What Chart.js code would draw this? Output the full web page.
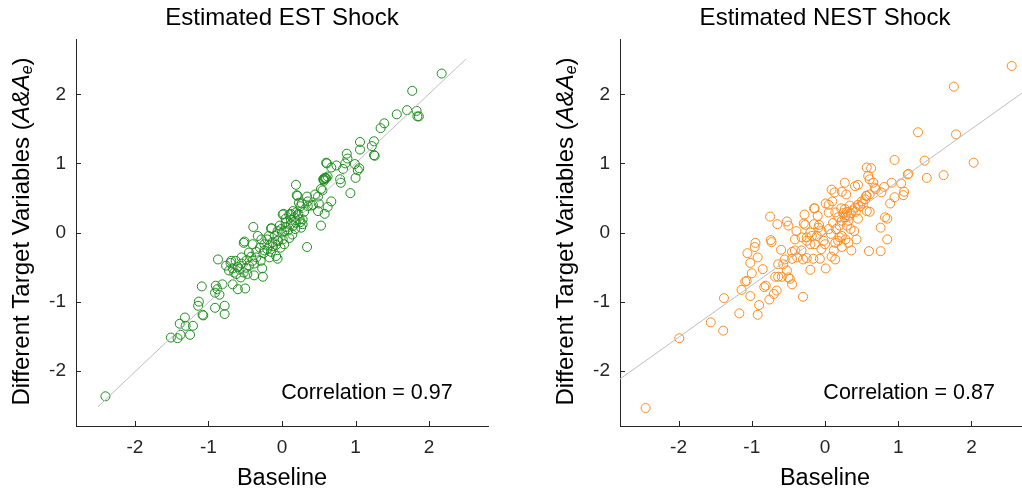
<!DOCTYPE html>
<html>
<head>
<meta charset="utf-8">
<script src="https://cdn.jsdelivr.net/npm/chart.js@4"></script>
<style>
html, body { margin: 0; padding: 0; background: #fff; overflow: hidden; }
body { width: 1022px; height: 495px; position: relative; }
.panel { position: absolute; top: 0; height: 495px; }
#est-panel { left: 0; width: 511px; }
#nest-panel { left: 544px; width: 509px; }
</style>
</head>
<body>
<div class="panel" id="est-panel"><canvas id="est-chart"></canvas></div>
<div class="panel" id="nest-panel"><canvas id="nest-chart"></canvas></div>
<script>
const tickValues = [-2, -1, 0, 1, 2];
const axisMin = -2.8;
const axisMax = 2.8;

// EST shock: baseline vs different target variables
const estX = [2.17, 1.77, 1.70, 1.56, 1.83, 1.84, 1.86, 1.39, 1.34, 1.06, 1.25, 1.22, 1.06, 1.26, 1.25, 0.88, 0.89, 0.86, 0.74, 0.60,
    0.61, 0.67, 0.99, 1.05, 1.03, 0.83, 1.00, 0.80, 0.79, 0.93, 0.58, 0.60, 0.56, 0.62, 0.55, 0.49, 0.67, 0.62, 0.50, 0.49,
    0.58, 0.53, 0.19, 0.20, 0.34, 0.23, 0.35, 0.25, 0.15, 0.19, 0.01, 0.10, 0.17, 0.24, 0.28, 0.26, 0.19, 0.12, 0.05, -0.01,
    0.03, -0.03, -0.06, -0.15, 0.14, 0.01, 0.03, 0.34, -0.06, -0.13, -0.17, -0.24, -0.33, -0.39, -0.51, -0.52, -0.40, -0.20, -0.24, -0.15,
    -0.08, -0.06, -0.17, -0.29, -0.35, -0.45, -0.40, -0.27, -0.26, -0.55, -0.63, -0.69, -0.76, -0.67, -0.58, -0.49, -0.47, -0.38, -0.56, -0.87,
    -0.67, -0.60, -0.50, -0.81, -0.90, -0.88, -0.91, -0.85, -1.09, -0.91, -0.78, -0.78, -1.13, -1.14, -1.08, -1.07, -1.32, -1.39, -1.31, -1.21,
    -1.25, -1.38, -1.42, -1.51, -2.40, 0.21, 0.27, 0.40, 0.02, 0.12, 0.22, 0.28, -0.14, 0.57, 0.59, 0.53, 0.57,
    -0.20, -0.10, 0.00, 0.05, 0.08, -0.05, -0.12, -0.25, -0.30, -0.35, -0.42, -0.48, -0.55, -0.60, -0.65, -0.72, -0.45, -0.38,
    0.12, 0.15, 0.22, 0.30, 0.25, 0.18, 0.10, -0.02, -0.08, 0.35, 0.42, 0.45, -0.18, -0.28, 0.05, -0.70, -0.62, -0.52];
const estY = [2.30, 2.05, 1.77, 1.71, 1.76, 1.68, 1.68, 1.58, 1.51, 1.31, 1.32, 1.25, 1.20, 1.11, 1.12, 1.14, 1.07, 1.00, 0.97, 1.01,
    1.00, 0.94, 0.99, 0.93, 0.90, 0.92, 0.79, 0.72, 0.77, 0.57, 0.79, 0.79, 0.77, 0.81, 0.61, 0.52, 0.45, 0.37, 0.42, 0.31,
    0.27, 0.10, 0.69, 0.54, 0.52, 0.43, 0.38, 0.38, 0.31, 0.29, 0.26, 0.26, 0.22, 0.19, 0.12, 0.07, 0.14, 0.12, 0.14, 0.05,
    0.02, 0.10, 0.02, 0.06, -0.03, -0.10, -0.17, -0.21, -0.12, -0.14, -0.19, -0.17, -0.05, 0.08, -0.13, -0.15, -0.17, -0.24, -0.26, -0.28,
    -0.34, -0.38, -0.36, -0.41, -0.36, -0.29, -0.41, -0.52, -0.64, -0.36, -0.41, -0.41, -0.48, -0.52, -0.53, -0.51, -0.60, -0.62, -0.65, -0.39,
    -0.75, -0.82, -0.81, -0.75, -0.77, -0.82, -0.87, -0.90, -0.78, -1.09, -1.06, -1.18, -1.00, -1.06, -1.19, -1.20, -1.23, -1.32, -1.35, -1.35,
    -1.48, -1.48, -1.53, -1.52, -2.37, 0.53, 0.42, 0.39, 0.27, 0.27, 0.27, 0.19, 0.06, 0.77, 0.78, 0.63, 0.75,
    -0.10, -0.05, 0.00, 0.08, 0.03, -0.12, -0.20, -0.30, -0.22, -0.28, -0.35, -0.40, -0.45, -0.50, -0.58, -0.55, -0.48, -0.45,
    0.18, 0.10, 0.25, 0.30, 0.15, 0.05, -0.08, -0.22, -0.18, 0.45, 0.40, 0.55, -0.05, -0.10, 0.20, -0.44, -0.60, -0.58];

// NEST shock
const nestX = [2.55, 1.76, 1.79, 1.27, 2.03, 0.95, 1.36, 1.39, 1.62, 1.14, 1.13, 0.57, 0.63, 0.59, 0.61, 0.66, 0.41, 0.45, 0.27, 0.09,
    0.13, 0.23, 0.29, 0.68, 0.81, 0.91, 1.04, 1.08, 1.07, 0.95, 0.89, 0.77, 0.61, 0.57, 0.55, 0.61, 0.57, 0.82, 0.85, 0.76,
    0.85, 0.76, 0.60, 0.36, 0.01, -0.14, -0.28, -0.10, 0.05, 0.14, 0.27, 0.34, 0.41, 0.32, 0.27, 0.23, 0.32, 0.18, 0.11, 0.40,
    0.43, 0.23, 0.20, 0.18, 0.14, 0.23, 0.12, 0.09, 0.14, 0.01, 0.00, -0.02, -0.09, -0.15, -0.08, -0.15, -0.27, -0.29, -0.39, -0.41,
    -0.32, -0.25, -0.18, -0.11, -0.14, -0.20, -0.05, -0.32, -0.41, -0.45, -0.52, -0.50, -0.65, -0.75, -0.74, -0.73, -0.60, -0.45, -0.38, -0.25,
    -0.30, -0.16, -0.07, -0.20, -0.30, -0.55, -0.57, -0.64, -0.68, -0.64, -0.59, -0.50, -0.48, -0.45, -0.52, -0.85, -0.95, -0.96, -1.06, -0.92,
    -1.02, -1.00, -1.07, -1.09, -1.14, -1.02, -0.83, -0.81, -0.66, -0.70, -0.76, -0.90, -0.92, -1.17, -1.38, -1.56, -1.39, -1.99, -2.45,
    0.56, 0.69, 0.30, 0.35, 0.38, 0.42, 0.45, 0.48, 0.28, 0.25, 0.22, 0.50, 0.52, 0.05, 0.08, -0.05, 0.15, 0.20, 0.30, 0.35,
    0.45, 0.05, 0.10, -0.20, -0.25, 0.28, 0.32];
const nestY = [2.41, 2.11, 1.42, 1.45, 1.01, 1.05, 1.04, 0.79, 0.83, 0.85, 0.84, 0.94, 0.93, 0.82, 0.77, 0.72, 0.67, 0.69, 0.72, 0.62,
    0.58, 0.59, 0.55, 0.65, 0.66, 0.72, 0.71, 0.59, 0.54, 0.51, 0.42, 0.58, 0.55, 0.53, 0.48, 0.30, 0.31, 0.22, 0.20, 0.07,
    -0.10, -0.27, -0.27, -0.26, 0.42, 0.35, 0.26, 0.24, 0.29, 0.29, 0.34, 0.39, 0.36, 0.24, 0.22, 0.17, 0.17, 0.22, 0.14, 0.02,
    -0.10, -0.05, -0.07, -0.12, -0.15, -0.21, -0.26, -0.35, -0.39, -0.52, -0.17, -0.12, 0.07, 0.12, 0.11, 0.35, 0.11, 0.13, 0.02, -0.10,
    -0.07, -0.07, -0.05, -0.05, -0.17, -0.17, -0.24, -0.26, -0.26, -0.28, 0.16, 0.10, 0.12, 0.23, -0.11, -0.14, -0.25, -0.38, -0.36, -0.37,
    -0.39, -0.38, -0.38, -0.54, -0.93, -0.39, -0.46, -0.46, -0.64, -0.64, -0.64, -0.65, -0.67, -0.75, -0.55, -0.53, -0.15, -0.21, -0.30, -0.36,
    -0.44, -0.59, -0.70, -0.71, -0.83, -0.92, -0.79, -0.77, -0.84, -0.89, -0.97, -1.05, -1.19, -1.17, -0.95, -1.30, -1.42, -1.53, -2.54,
    0.53, 0.63, 0.30, 0.28, 0.32, 0.30, 0.40, 0.38, 0.25, 0.28, 0.35, 0.45, 0.42, 0.05, -0.02, 0.02, 0.05, 0.10, 0.10, 0.05,
    0.20, 0.40, 0.45, 0.00, -0.12, -0.10, -0.15];

// fitted lines
const estLineX = [-2.5, 2.5];
const estLineY = [-2.52, 2.51];
const nestLineX = [-2.8, 2.8];
const nestLineY = [-2.12, 2.1];

const estCorrelation = 0.97;
const nestCorrelation = 0.87;

const axisColor = '#262626';
const fontFamily = '"Liberation Sans", Arial, Helvetica, sans-serif';

function toPoints(xs, ys) {
    return xs.map((x, i) => ({ x: x, y: ys[i] }));
}

// MATLAB style ticks pointing into the plot
const innerTicksPlugin = {
    id: 'innerTicks',
    afterDraw(chart) {
        const ctx = chart.ctx;
        const area = chart.chartArea;
        const xScale = chart.scales.x;
        const yScale = chart.scales.y;
        ctx.save();
        ctx.strokeStyle = axisColor;
        ctx.lineWidth = 1;
        ctx.beginPath();
        xScale.ticks.forEach(t => {
            const px = Math.round(xScale.getPixelForValue(t.value)) + 0.5;
            ctx.moveTo(px, area.bottom);
            ctx.lineTo(px, area.bottom - 5);
        });
        yScale.ticks.forEach(t => {
            const py = Math.round(yScale.getPixelForValue(t.value)) + 0.5;
            ctx.moveTo(area.left, py);
            ctx.lineTo(area.left + 5, py);
        });
        ctx.stroke();
        ctx.restore();
    }
};

// y axis title with italic A&A and subscript e, plus the correlation note
const annotationsPlugin = {
    id: 'annotations',
    afterDraw(chart, args, opts) {
        const ctx = chart.ctx;
        const area = chart.chartArea;
        ctx.save();

        const parts = [
            { text: 'Different Target Variables (', font: '24px ' + fontFamily, dy: 0 },
            { text: 'A&A', font: 'italic 24px ' + fontFamily, dy: 0 },
            { text: 'e', font: 'italic 16px ' + fontFamily, dy: 6 },
            { text: ')', font: '24px ' + fontFamily, dy: 0 }
        ];
        let total = 0;
        parts.forEach(p => {
            ctx.font = p.font;
            p.w = ctx.measureText(p.text).width;
            total += p.w;
        });
        ctx.translate(22, (area.top + area.bottom) / 2 - 1);
        ctx.rotate(-Math.PI / 2);
        ctx.fillStyle = '#000';
        ctx.textBaseline = 'middle';
        ctx.textAlign = 'left';
        let cx = -total / 2;
        parts.forEach(p => {
            ctx.font = p.font;
            ctx.fillText(p.text, cx, p.dy);
            cx += p.w;
        });
        ctx.restore();

        ctx.save();
        ctx.font = '21.5px ' + fontFamily;
        ctx.fillStyle = '#000';
        ctx.textAlign = 'right';
        ctx.textBaseline = 'middle';
        ctx.fillText('Correlation = ' + opts.correlation.toFixed(2),
            chart.scales.x.getPixelForValue(2.32), chart.scales.y.getPixelForValue(-2.32));
        ctx.restore();
    }
};

function axisOptions(titleText) {
    return {
        type: 'linear',
        min: axisMin,
        max: axisMax,
        afterBuildTicks: scale => { scale.ticks = tickValues.map(v => ({ value: v })); },
        grid: { drawOnChartArea: false, drawTicks: false },
        border: { display: true, color: axisColor, width: 1 },
        ticks: {
            color: axisColor,
            font: { family: fontFamily, size: 19 },
            padding: 10,
            callback: v => String(v)
        },
        title: titleText ? {
            display: true,
            text: titleText,
            color: '#000',
            font: { family: fontFamily, size: 23.5 },
            padding: { top: 0, bottom: 2 }
        } : { display: false }
    };
}

function createScatter(canvasId, title, xs, ys, lineX, lineY, color, correlation) {
    const ctx = document.getElementById(canvasId).getContext('2d');
    const xAxis = axisOptions('Baseline');
    xAxis.afterFit = scale => { scale.height = 69; };
    const yAxis = axisOptions(null);
    yAxis.afterFit = scale => { scale.width = 76; };

    return new Chart(ctx, {
        type: 'scatter',
        data: {
            datasets: [{
                type: 'line',
                data: toPoints(lineX, lineY),
                borderColor: '#bdbdbd',
                borderWidth: 1,
                pointRadius: 0,
                fill: false
            }, {
                data: toPoints(xs, ys),
                backgroundColor: 'rgba(0,0,0,0)',
                borderColor: color,
                borderWidth: 1,
                pointRadius: 4.5,
                pointHoverRadius: 4.5
            }]
        },
        options: {
            responsive: true,
            maintainAspectRatio: false,
            animation: false,
            events: [],
            layout: { padding: { left: 0, right: 23, top: 0, bottom: 0 } },
            plugins: {
                legend: { display: false },
                tooltip: { enabled: false },
                title: {
                    display: true,
                    fullSize: false,
                    text: title,
                    color: '#000',
                    font: { family: fontFamily, size: 24, weight: 'normal' },
                    padding: { top: 4, bottom: 6.2 }
                },
                annotations: { correlation: correlation }
            },
            scales: { x: xAxis, y: yAxis }
        },
        plugins: [innerTicksPlugin, annotationsPlugin]
    });
}

createScatter('est-chart', 'Estimated EST Shock', estX, estY, estLineX, estLineY, '#1c8c1c', estCorrelation);
createScatter('nest-chart', 'Estimated NEST Shock', nestX, nestY, nestLineX, nestLineY, '#ff8a1a', nestCorrelation);
</script>
</body>
</html>
